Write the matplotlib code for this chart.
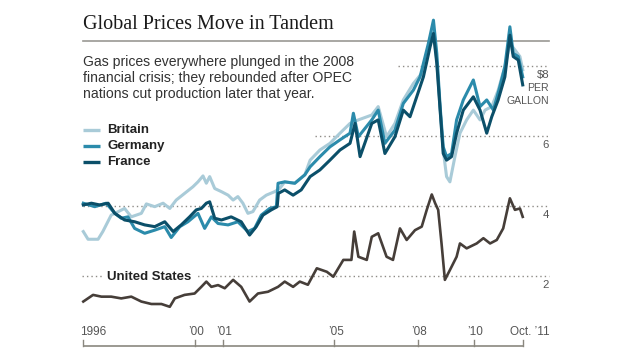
import matplotlib
matplotlib.use("Agg")
import matplotlib.pyplot as plt

# ---- data (US$ per gallon) ----
uk_t = [1996.0, 1996.17, 1996.53, 1996.7, 1997.0, 1997.13, 1997.48, 1997.72, 1998.08, 1998.26, 1998.56, 1998.86,
        1999.1, 1999.33, 1999.63, 1999.93, 2000.11, 2000.29, 2000.41, 2000.53, 2000.71, 2000.95, 2001.19, 2001.37,
        2001.54, 2001.72, 2001.9, 2002.08, 2002.32, 2002.56, 2002.86, 2003.04, 2003.22, 2003.58, 2003.94, 2004.13,
        2004.48, 2004.84, 2005.2, 2005.56, 2005.86, 2006.34, 2006.57, 2006.87, 2007.17, 2007.47, 2007.83, 2008.13,
        2008.37, 2008.55, 2008.67, 2008.79, 2008.9, 2009.02, 2009.14, 2009.32, 2009.5, 2009.74, 2009.98, 2010.22,
        2010.4, 2010.64, 2010.87, 2011.11, 2011.29, 2011.47, 2011.65, 2011.75]
uk_v = [3.27, 3.05, 3.05, 3.27, 3.74, 3.79, 3.93, 3.69, 3.79, 4.06, 3.98, 4.08, 3.93, 4.17, 4.36, 4.55, 4.69, 4.86,
        4.65, 4.84, 4.5, 4.41, 4.31, 4.17, 4.27, 4.08, 3.79, 3.84, 4.17, 4.31, 4.41, 4.5, 4.69, 4.65, 4.89, 5.31, 5.6,
        5.79, 6.08, 6.36, 6.46, 6.6, 6.84, 5.98, 6.36, 7.03, 7.5, 7.79, 8.55, 8.98, 8.17, 6.74, 5.6, 4.84, 4.69, 5.41,
        6.08, 6.46, 6.74, 6.46, 6.74, 6.84, 7.31, 7.98, 8.65, 8.46, 8.27, 7.89]

de_t = [1996.0, 1996.41, 1996.82, 1997.13, 1997.36, 1997.6, 1997.84, 1998.2, 1998.56, 1998.92, 1999.15, 1999.46,
        1999.75, 2000.11, 2000.35, 2000.59, 2000.83, 2001.19, 2001.54, 2001.9, 2002.14, 2002.38, 2002.68, 2002.92,
        2002.98, 2003.22, 2003.58, 2003.94, 2004.13, 2004.48, 2004.84, 2005.2, 2005.56, 2005.68, 2005.86, 2006.34,
        2006.57, 2006.81, 2007.17, 2007.47, 2007.83, 2008.07, 2008.37, 2008.55, 2008.67, 2008.79, 2008.9, 2009.02,
        2009.2, 2009.38, 2009.62, 2009.98, 2010.22, 2010.46, 2010.7, 2010.93, 2011.11, 2011.29, 2011.41, 2011.59,
        2011.75]
de_v = [4.08, 3.98, 4.08, 3.79, 3.65, 3.69, 3.36, 3.22, 3.31, 3.41, 3.1, 3.41, 3.55, 3.79, 3.36, 3.69, 3.5, 3.46,
        3.55, 3.27, 3.36, 3.74, 3.93, 3.98, 4.65, 4.69, 4.65, 4.89, 5.12, 5.41, 5.69, 5.89, 6.08, 6.65, 5.98, 6.46,
        6.74, 5.79, 6.17, 6.93, 7.31, 7.69, 8.65, 9.31, 8.36, 6.84, 5.69, 5.41, 5.5, 6.46, 7.03, 7.6, 6.84, 7.03, 6.74,
        7.41, 7.98, 9.12, 8.36, 8.27, 7.69]

fr_t = [1996.0, 1996.29, 1996.59, 1996.89, 1997.13, 1997.48, 1997.84, 1998.2, 1998.56, 1998.92, 1999.22, 1999.51,
        1999.81, 2000.05, 2000.23, 2000.41, 2000.53, 2000.71, 2000.95, 2001.3, 2001.66, 2001.96, 2002.2, 2002.44,
        2002.74, 2002.95, 2002.99, 2003.22, 2003.52, 2003.81, 2004.13, 2004.48, 2004.84, 2005.2, 2005.56, 2005.74,
        2005.92, 2006.34, 2006.57, 2006.81, 2007.17, 2007.47, 2007.71, 2007.95, 2008.19, 2008.43, 2008.55, 2008.67,
        2008.79, 2008.9, 2009.02, 2009.2, 2009.38, 2009.62, 2009.98, 2010.22, 2010.46, 2010.64, 2010.87, 2011.11,
        2011.29, 2011.41, 2011.59, 2011.75]
fr_v = [4.03, 4.08, 4.03, 4.08, 3.79, 3.6, 3.55, 3.46, 3.41, 3.55, 3.27, 3.46, 3.69, 3.89, 3.93, 4.08, 4.12, 3.65,
        3.6, 3.69, 3.55, 3.17, 3.41, 3.74, 3.89, 3.98, 4.36, 4.46, 4.31, 4.46, 4.84, 5.03, 5.31, 5.6, 5.79, 6.36, 5.41,
        6.36, 6.46, 5.5, 5.98, 6.74, 6.55, 7.12, 7.69, 8.55, 8.93, 8.07, 6.74, 5.5, 5.31, 5.41, 6.08, 6.74, 7.12, 6.74,
        6.08, 6.55, 7.03, 7.69, 8.88, 8.27, 8.17, 7.46]

us_t = [1996.0, 1996.35, 1996.65, 1997.0, 1997.36, 1997.72, 1998.08, 1998.44, 1998.8, 1999.1, 1999.28, 1999.63,
        1999.99, 2000.23, 2000.41, 2000.59, 2000.83, 2001.07, 2001.37, 2001.66, 2001.96, 2002.26, 2002.62, 2002.98,
        2003.22, 2003.52, 2003.76, 2004.05, 2004.37, 2004.73, 2004.96, 2005.32, 2005.61, 2005.71, 2005.86, 2006.16,
        2006.34, 2006.57, 2006.87, 2007.1, 2007.35, 2007.59, 2007.89, 2008.13, 2008.31, 2008.49, 2008.61, 2008.72,
        2008.84, 2008.96, 2009.14, 2009.38, 2009.5, 2009.74, 2010.1, 2010.34, 2010.58, 2010.82, 2011.05, 2011.17,
        2011.29, 2011.47, 2011.65, 2011.75]
us_v = [1.27, 1.46, 1.41, 1.41, 1.36, 1.41, 1.27, 1.2, 1.2, 1.12, 1.36, 1.46, 1.5, 1.69, 1.84, 1.69, 1.74, 1.65,
        1.89, 1.69, 1.27, 1.5, 1.55, 1.69, 1.84, 1.69, 1.84, 1.75, 2.22, 2.12, 1.98, 2.46, 2.46, 3.27, 2.55, 2.46,
        3.12, 3.22, 2.55, 2.46, 3.36, 3.03, 3.31, 3.41, 3.89, 4.33, 4.08, 3.89, 2.93, 1.89, 2.17, 2.55, 2.93, 2.79,
        2.93, 3.08, 2.93, 3.03, 3.36, 3.79, 4.22, 3.89, 3.93, 3.69]

series_names = ["Britain", "Germany", "France"]
tick_years = [1996, 2000, 2001, 2005, 2008, 2010, 2011.75]
tick_labels = ["1996", "\u201900", "\u201901", "\u201905", "\u201908", "\u201910", "Oct. \u201911"]
grid_values = [8, 6, 4, 2]
grid_labels = ["$8", "6", "4", "2"]

# ---- styling ----
C_UK = "#a9cbd8"
C_DE = "#2b8bab"
C_FR = "#0b4f69"
C_US = "#463e39"
C_GRID = "#8e8b86"
C_TEXT = "#333333"
SANS_N = ["Liberation Sans Narrow", "Liberation Sans", "DejaVu Sans"]
SANS = ["Liberation Sans", "DejaVu Sans"]

W, H = 640, 360
fig = plt.figure(figsize=(6.4, 3.6), dpi=100)
fig.patch.set_facecolor("white")

# pixel mapping: 1996 -> x=83.3, 27.9 px per year; $0 -> y=346, 35 px per dollar
PX0, PXY = 83.3, 27.9
PY0, PYD = 346.0, 35.0
x0 = 1996 - PX0 / PXY
x1 = x0 + W / PXY
y0 = -(H - PY0) / PYD
y1 = PY0 / PYD

ax = fig.add_axes([0, 0, 1, 1])
ax.set_xlim(x0, x1)
ax.set_ylim(y0, y1)
ax.axis("off")


def fx(px):
    return px / W


def fy(py):
    return 1 - py / H


# grid lines (dotted), with their left start in pixels
grid_start = [398, 315, 83, 82]
for gv, gs in zip(grid_values, grid_start):
    ax.axhline(gv, xmin=fx(gs), xmax=fx(549), color=C_GRID, lw=1.0,
               linestyle=(0, (1, 2.2)), zorder=1)

# right-hand labels
for gv, gl in zip(grid_values, grid_labels):
    ax.annotate(gl, xy=(fx(549), gv), xycoords=("figure fraction", "data"),
                xytext=(0, -3), textcoords="offset points", ha="right", va="top",
                fontsize=8.2, family=SANS_N, color="#555555")
fig.text(fx(549), fy(88), "PER", ha="right", va="center", fontsize=7.6, family=SANS_N, color="#555555")
fig.text(fx(549), fy(101), "GALLON", ha="right", va="center", fontsize=7.6, family=SANS_N, color="#555555")

# series
ax.plot(uk_t, uk_v, color=C_UK, lw=2.2, zorder=3, solid_joinstyle="round")
ax.plot(de_t, de_v, color=C_DE, lw=2.2, zorder=4, solid_joinstyle="round")
ax.plot(fr_t, fr_v, color=C_FR, lw=2.2, zorder=5, solid_joinstyle="round")
ax.plot(us_t, us_v, color=C_US, lw=1.9, zorder=5, solid_joinstyle="round")

# x axis
ax.plot([tick_years[0], tick_years[-1]], [0, 0], color="#8a877f", lw=1.2, zorder=2, solid_capstyle="butt")
for ty, tl in zip(tick_years, tick_labels):
    ax.plot([ty, ty], [0, 6 / PYD], color="#8a877f", lw=1.0, zorder=2)
    if tl == "1996":
        ha, dx = "left", -2
    elif tl.startswith("Oct"):
        ha, dx = "center", 5
    else:
        ha, dx = "center", 1
    ax.annotate(tl, xy=(ty, 14 / PYD), xytext=(dx, 0), textcoords="offset points",
                ha=ha, va="center", fontsize=8.5, family=SANS_N, color="#555555")

# title and rule
fig.text(fx(83), fy(24.5), "Global Prices Move in Tandem", ha="left", va="center",
         fontsize=14.5, family=["Liberation Serif", "DejaVu Serif"], color="#1a1a1a")
ax.plot([x0 + 83 / PXY, x0 + 549 / PXY], [y1 - 41 / PYD] * 2, color="#9a9893", lw=1.2, zorder=2)

# subtitle
sub = ["Gas prices everywhere plunged in the 2008",
       "financial crisis; they rebounded after OPEC",
       "nations cut production later that year."]
for i, line in enumerate(sub):
    fig.text(fx(83), fy(62 + 16 * i), line, ha="left", va="center", fontsize=10.1,
             family=SANS, color=C_TEXT)

# legend
for i, (name, col) in enumerate(zip(series_names, [C_UK, C_DE, C_FR])):
    yy = 130 + 16 * i
    ax.plot([x0 + 83 / PXY, x0 + 100 / PXY], [y1 - yy / PYD] * 2, color=col, lw=2.4, solid_capstyle="butt")
    fig.text(fx(107), fy(yy), name, ha="left", va="center", fontsize=9.5, fontweight="bold",
             family=SANS, color="#222222")

# United States label with white box to interrupt the grid line
fig.text(fx(107), fy(277), "United States", ha="left", va="center", fontsize=9.5, fontweight="bold",
         family=SANS, color="#222222", zorder=10,
         bbox=dict(boxstyle="square,pad=0.25", fc="white", ec="none"))

fig.savefig("out.png", dpi=100, facecolor="white")
